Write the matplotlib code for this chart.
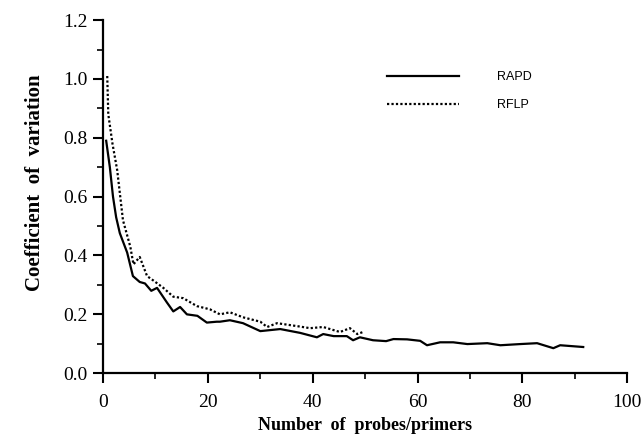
"""
Coefficient of variation vs. number of probes/primers (RAPD vs RFLP).
"""

import matplotlib

matplotlib.use("Agg")
import matplotlib.pyplot as plt
from matplotlib.ticker import MultipleLocator

# RAPD (solid)
rapd_n = [0.6, 1.3, 1.9, 2.5, 3.2, 4.6, 5.7, 7, 8, 9.2, 10.3, 12.2, 13.4, 14.7,
          16, 18, 19.8, 21.7, 22.3, 24.2, 26.7, 30, 33.8, 37.6, 40.8, 42, 44,
          46.5, 47.7, 49, 51.5, 54, 55.4, 58, 60.5, 61.8, 64.3, 66.8, 69.5,
          73.3, 75.8, 79.6, 82.8, 85.9, 87.2, 91.6]
rapd_cv = [0.79, 0.70, 0.60, 0.53, 0.476, 0.41, 0.33, 0.31, 0.305, 0.28, 0.29,
           0.24, 0.21, 0.225, 0.20, 0.195, 0.172, 0.175, 0.175, 0.18, 0.17,
           0.143, 0.15, 0.137, 0.122, 0.133, 0.126, 0.126, 0.112, 0.122, 0.112,
           0.109, 0.116, 0.115, 0.11, 0.095, 0.105, 0.105, 0.099, 0.102, 0.095,
           0.099, 0.102, 0.085, 0.095, 0.089]

# RFLP (dotted)
rflp_n = [0.8, 1.0, 1.8, 2.7, 3.8, 5.2, 5.8, 7, 8.4, 9.6, 11.5, 13.4, 15.3,
          17.9, 20.4, 22.3, 24.2, 26.7, 30, 31.3, 33.2, 37, 39.5, 42, 45.2,
          47.1, 48.5, 49.6]
rflp_cv = [1.01, 0.88, 0.78, 0.69, 0.52, 0.43, 0.37, 0.395, 0.33, 0.315, 0.29,
           0.26, 0.255, 0.228, 0.217, 0.20, 0.207, 0.19, 0.175, 0.157, 0.17,
           0.16, 0.153, 0.157, 0.14, 0.153, 0.133, 0.14]

serif = ["Liberation Serif", "DejaVu Serif"]

fig = plt.figure(figsize=(6.44, 4.37), dpi=100)
ax = fig.add_axes([0.16, 0.146, 0.814, 0.808])

ax.plot(rapd_n, rapd_cv, color="black", lw=1.6, label="RAPD")
ax.plot(rflp_n, rflp_cv, color="black", lw=1.6, linestyle=(0, (1, 1)), label="RFLP")

ax.set_xlim(0, 100)
ax.set_ylim(0, 1.2)
ax.xaxis.set_major_locator(MultipleLocator(20))
ax.xaxis.set_minor_locator(MultipleLocator(10))
ax.yaxis.set_major_locator(MultipleLocator(0.2))
ax.yaxis.set_minor_locator(MultipleLocator(0.1))
ax.yaxis.set_major_formatter(lambda v, p: f"{v:.1f}")

for side in ["top", "right"]:
    ax.spines[side].set_visible(False)
for side in ["left", "bottom"]:
    ax.spines[side].set_linewidth(1.6)

ax.tick_params(which="major", direction="out", length=7, width=1.5, labelsize=14, pad=4)
ax.tick_params(axis="x", which="major", pad=8)
ax.tick_params(which="minor", direction="out", length=4, width=1.2)
for lab in ax.get_xticklabels() + ax.get_yticklabels():
    lab.set_family(serif)

ax.set_xlabel("Number  of  probes/primers", family=serif, fontweight="bold", fontsize=13, labelpad=4)
ax.set_ylabel("Coefficient  of  variation", family=serif, fontweight="bold", fontsize=15)
ax.yaxis.set_label_coords(-0.111, 0.54)

ax.legend(loc="upper left", bbox_to_anchor=(0.52, 0.888), frameon=False,
          handlelength=5.8, handletextpad=3.0, labelspacing=1.3,
          prop={"family": "Liberation Sans", "size": 9})

fig.savefig("out.png", dpi=100)
